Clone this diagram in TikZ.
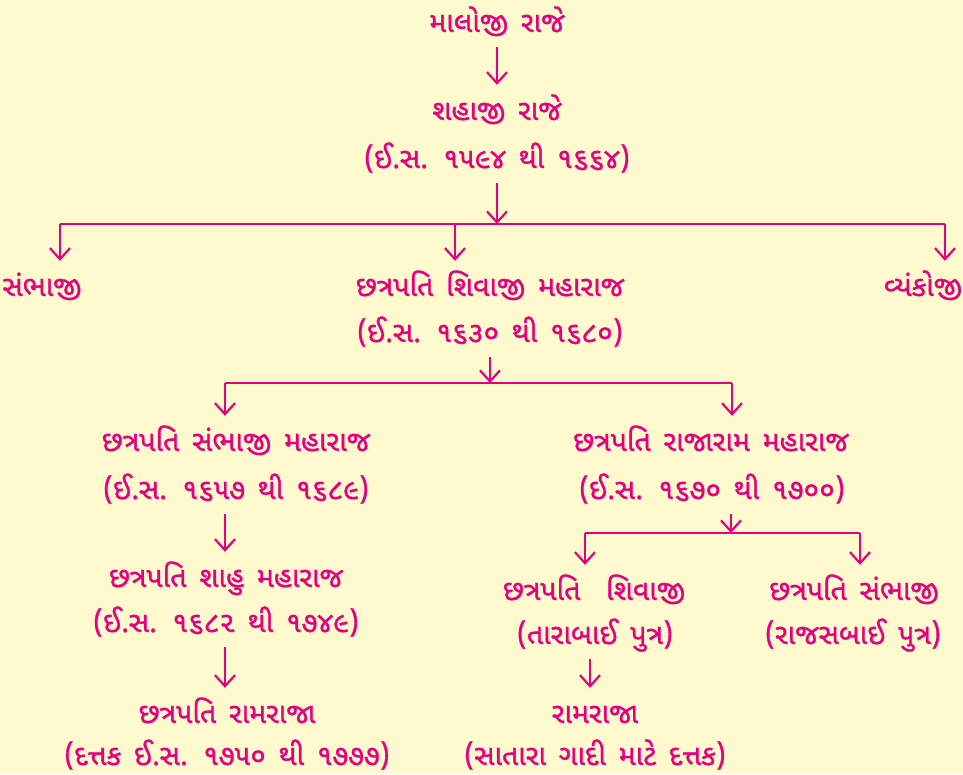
\documentclass[tikz,border=0pt]{standalone}
\usepackage{fontspec}
\newfontfamily\gujfont[Script=Gujarati,FakeBold=1.2,WordSpace=1.5]{Noto Sans Gujarati UI}
\usetikzlibrary{arrows.meta}
\definecolor{rani}{HTML}{E6007E}
\definecolor{paper}{HTML}{FFFACD}
\tikzset{>={Straight Barb[length=11pt,width=20pt]}}
\tikzset{
    person/.style={rectangle,draw=none,inner sep=0pt,minimum height=50pt,text height=22pt,text depth=2pt,text=rani,font=\gujfont\fontsize{28.5pt}{32pt}\selectfont},
    directed/.style={arrows={->},draw=rani,line width=2.2pt},
    bus/.style={draw=rani,line width=2.2pt},
}
\begin{document}
\begin{tikzpicture}[x=1pt,y=-1pt]
		\fill[paper] (0,0) rectangle (963,774);
		\useasboundingbox (0,0) rectangle (963,774);

		\node[person] (maloji) at (497,22) {માલોજી રાજે};
		\node[person] (shahaji) at (497,110) {શહાજી રાજે};
		\node[person] (shahajid) at (497,158) {(ઈ.સ. ૧૫૯૪ થી ૧૬૬૪)};

		\node[person] (sambhaji) at (42,286) {સંભાજી};
		\node[person] (shivaji) at (490,286) {છત્રપતિ શિવાજી મહારાજ};
		\node[person] (shivajid) at (490,332) {(ઈ.સ. ૧૬૩૦ થી ૧૬૮૦)};
		\node[person] (vyankoji) at (923,286) {વ્યંકોજી};

		\node[person] (csambhaji) at (236,441) {છત્રપતિ સંભાજી મહારાજ};
		\node[person] (csambhajid) at (236,489) {(ઈ.સ. ૧૬૫૭ થી ૧૬૮૯)};
		\node[person] (shahu) at (226,577) {છત્રપતિ શાહુ મહારાજ};
		\node[person] (shahud) at (226,622) {(ઈ.સ. ૧૬૮૨ થી ૧૭૪૯)};
		\node[person] (ramraja) at (227,713) {છત્રપતિ રામરાજા};
		\node[person] (ramrajad) at (227,755) {(દત્તક ઈ.સ. ૧૭૫૦ થી ૧૭૭૭)};

		\node[person] (rajaram) at (711,441) {છત્રપતિ રાજારામ મહારાજ};
		\node[person] (rajaramd) at (712,489) {(ઈ.સ. ૧૬૭૦ થી ૧૭૦૦)};
		\node[person] (shivajii) at (594,590) {છત્રપતિ\ \ શિવાજી};
		\node[person] (tarabai) at (595,634) {(તારાબાઈ પુત્ર)};
		\node[person] (sambhajii) at (854,590) {છત્રપતિ સંભાજી};
		\node[person] (rajasbai) at (853,634) {(રાજસબાઈ પુત્ર)};
		\node[person] (ramrajaii) at (595,713) {રામરાજા};
		\node[person] (satara) at (595,755) {(સાતારા ગાદી માટે દત્તક)};

		\coordinate (j1) at (497,224);
		\coordinate (j1l) at (60,224);
		\coordinate (j1m) at (455,224);
		\coordinate (j1r) at (945,224);
		\coordinate (j2) at (490,383);
		\coordinate (j2l) at (225,383);
		\coordinate (j2r) at (732,383);
		\coordinate (j3) at (731,533);
		\coordinate (j3l) at (585,533);
		\coordinate (j3r) at (860,533);

		\draw[directed] (maloji) -- (shahaji);
		\draw[directed] (shahajid) -- (j1);
		\draw[bus] (j1l) -- (j1r);
		\draw[directed] (j1l) -- (j1l |- sambhaji.north);
		\draw[directed] (j1m) -- (j1m |- shivaji.north);
		\draw[directed] (j1r) -- (j1r |- vyankoji.north);

		\draw[directed] (shivajid) -- (j2);
		\draw[bus] (j2l) -- (j2r);
		\draw[directed] (j2l) -- (j2l |- csambhaji.north);
		\draw[directed] (j2r) -- (j2r |- rajaram.north);

		\draw[directed] (csambhajid.south -| j2l) -- (j2l |- shahu.north);
		\draw[directed] (shahud.south -| j2l) -- (j2l |- ramraja.north);

		\draw[directed] (rajaramd.south -| j3) -- (j3);
		\draw[bus] (j3l) -- (j3r);
		\draw[directed] (j3l) -- (j3l |- shivajii.north);
		\draw[directed] (j3r) -- (j3r |- sambhajii.north);
		\draw[directed] (tarabai.south -| 590,0) -- (590,0 |- ramrajaii.north);
	\end{tikzpicture}
\end{document}
